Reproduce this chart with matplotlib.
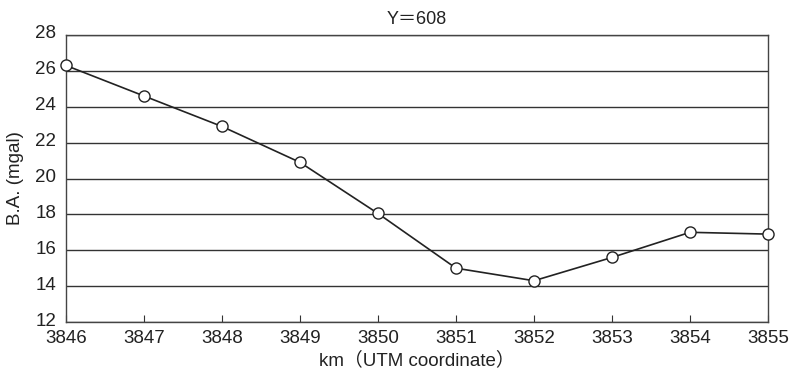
import numpy as np
import matplotlib.pyplot as plt
import matplotlib.transforms as mtransforms

plt.rcParams['font.family'] = ['Liberation Sans', 'Noto Sans CJK JP', 'DejaVu Sans']

# survey points along Y=608
km = [3846, 3847, 3848, 3849, 3850, 3851, 3852, 3853, 3854, 3855]
ba = [26.3, 24.6, 22.9, 20.9, 18.05, 15.0, 14.3, 15.6, 17.0, 16.9]
yticks = [12, 14, 16, 18, 20, 22, 24, 26, 28]

fig = plt.figure(figsize=(7.95, 3.73), dpi=100)
ax = fig.add_axes([66 / 795, 1 - 322 / 373, (768 - 66) / 795, (322 - 35) / 373])

ax.plot(km, ba, color="#222222", lw=1.2, marker="o", ms=8,
        mfc="white", mec="#222222", mew=1.0, zorder=3, clip_on=False)

ax.set_xlim(km[0], km[-1])
ax.set_ylim(12, 28)
ax.set_xticks(km)
ax.set_yticks(yticks)
ax.yaxis.grid(True, color="#333333", lw=1.0)
ax.set_axisbelow(True)

ax.tick_params(axis="x", direction="in", length=5, color="#333333",
               labelsize=13.5, pad=6, labelcolor="#222222")
ax.tick_params(axis="y", length=0, labelsize=13.5, pad=7, labelcolor="#222222")
for s in ["left", "right", "bottom", "top"]:
    ax.spines[s].set_color("#444444")
    ax.spines[s].set_linewidth(1.0)

# y tick labels sit a little above their gridlines in the original
shift = mtransforms.ScaledTranslation(0, 3 / 100, fig.dpi_scale_trans)
for lab in ax.get_yticklabels():
    lab.set_transform(lab.get_transform() + shift)

ax.set_title("Y＝608", fontsize=13, pad=8, color="#222222")
ax.set_xlabel("km（UTM coordinate）", fontsize=13.5, labelpad=3, color="#222222")
ax.set_ylabel("B.A. (mgal)", fontsize=13.5, labelpad=8, color="#222222")

fig.savefig("out.png", dpi=100)
